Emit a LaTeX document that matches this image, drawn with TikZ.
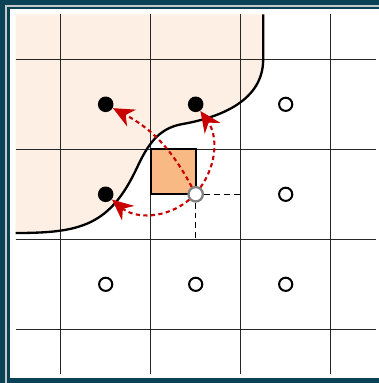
\documentclass[tikz,border=0pt]{standalone}
\usetikzlibrary{arrows.meta}

\begin{document}
\begin{tikzpicture}[
    x=1.5cm, y=1.5cm,
    dot/.style={circle, fill=black, inner sep=0pt, minimum size=0.26cm},
    hole/.style={circle, draw=black, fill=white, line width=0.95pt, inner sep=0pt, minimum size=0.22cm},
    query/.style={circle, draw=gray, fill=white, line width=1.1pt, inner sep=0pt, minimum size=0.24cm},
    gridline/.style={draw=black!85, line width=0.55pt},
    border/.style={draw=black, line width=1.1pt},
    guide/.style={draw=black, line width=0.5pt, dash pattern=on 2.8pt off 1.9pt},
    jump/.style={draw=arrowred, line width=1pt, dash pattern=on 2pt off 1.6pt,
        -{Stealth[length=10pt, width=9pt]}}
]

\definecolor{bgteal}{RGB}{12, 66, 86}
\definecolor{framegray}{RGB}{196, 200, 202}
\definecolor{peach}{RGB}{253, 239, 227}
\definecolor{cellorange}{RGB}{248, 185, 133}
\definecolor{arrowred}{RGB}{200, 0, 0}

\useasboundingbox (-1.6744, -1.5967) rectangle (2.5367, 2.6589);
\fill[bgteal] (-1.6744, -1.5967) rectangle (2.5367, 2.6589);
\draw[framegray, line width=1pt] (-1.6078, -1.6) -- (-1.6078, 2.592) -- (2.54, 2.592);
\fill[white] (-1.5633, -1.5411) rectangle (2.5367, 2.5589);

\fill[peach] (-1.5, 2.5) -- (-1.5, 0.07)
    to[out=0, in=-115, looseness=1.2] (-0.15, 0.8)
    to[out=65, in=190] (0.35, 1.28)
    to[out=10, in=-90] (1.25, 2.0) -- (1.25, 2.5) -- cycle;

\draw[gridline, step=1] (-1.5, -1.5) grid (2.5, 2.5);

\draw[border] (-1.5, 0.07)
    to[out=0, in=-115, looseness=1.2] (-0.15, 0.8)
    to[out=65, in=190] (0.35, 1.28)
    to[out=10, in=-90] (1.25, 2.0) -- (1.25, 2.5);

\filldraw[fill=cellorange, border] (0, 0.5) rectangle (0.5, 1);

\node[dot] (in1) at (-0.5, 1.5) {};
\node[dot] (in2) at (0.5, 1.5) {};
\node[dot] (in3) at (-0.5, 0.5) {};
\node[hole] (out1) at (1.5, 1.5) {};
\node[hole] (out2) at (1.5, 0.5) {};
\node[hole] (out3) at (-0.5, -0.5) {};
\node[hole] (out4) at (0.5, -0.5) {};
\node[hole] (out5) at (1.5, -0.5) {};
\node[query] (q) at (0.5, 0.5) {};

\coordinate (qe) at (1, 0.5);
\coordinate (qs) at (0.5, 0);
\draw[guide] (q) -- (qe);
\draw[guide] (q) -- (qs);

\draw[jump] (q) to[bend right=17] (in1);
\draw[jump] (q) to[bend right=35] (in2);
\draw[jump] (q) to[bend left=40] (in3);

\end{tikzpicture}
\end{document}
